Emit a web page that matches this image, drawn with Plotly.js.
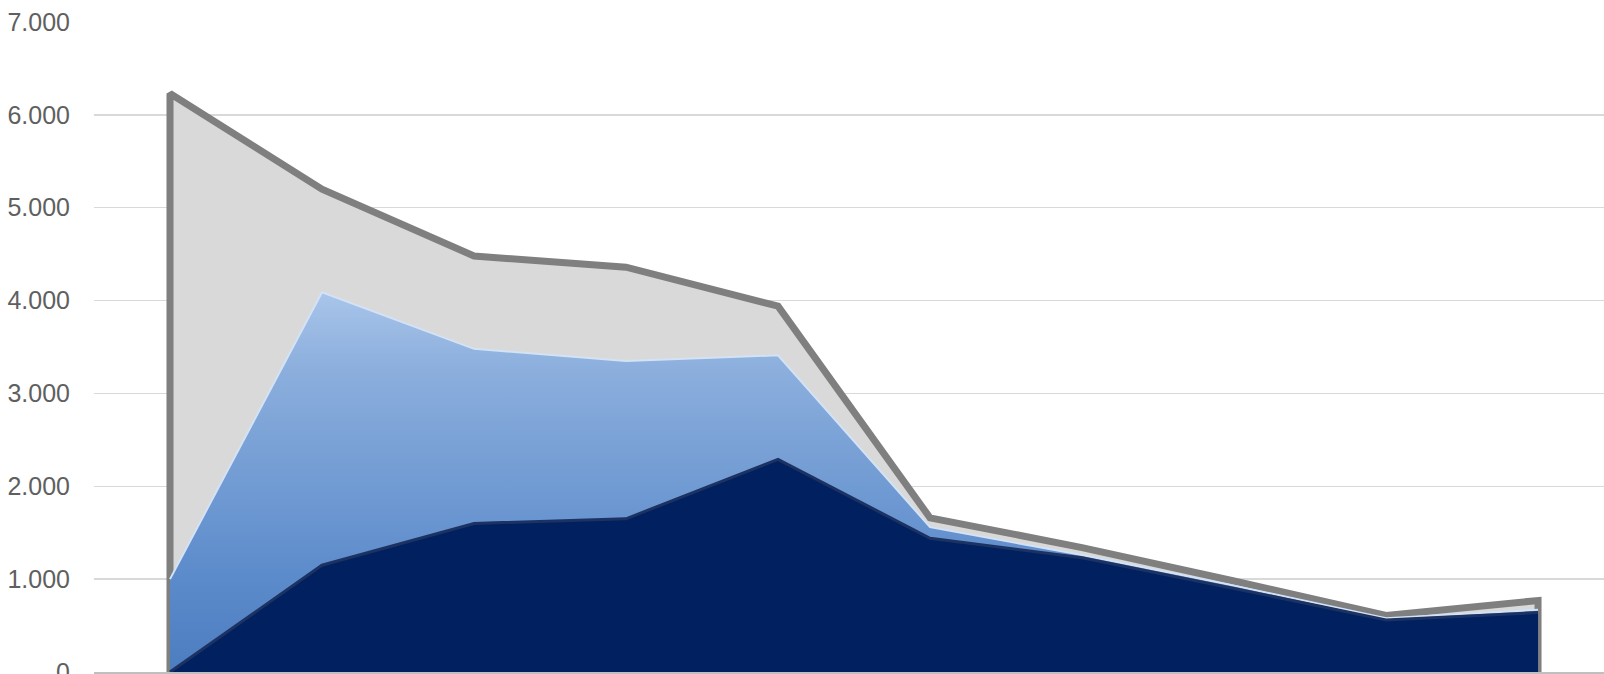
<!DOCTYPE html>
<html>
<head>
<meta charset="utf-8">
<script src="https://cdn.plot.ly/plotly-3.0.1.min.js"></script>
<style>html,body{margin:0;padding:0;background:#fff;}#chart{width:1604px;height:674px;}</style>
</head>
<body>
<div id="chart"></div>
<script>
// Categories (x labels are cropped out of the reference)
const categories = ['1','2','3','4','5','6','7','8','9','10'];
// Series values (overlapping areas)
const totalSeries = [6230, 5200, 4480, 4360, 3940, 1660, 1340, 980, 610, 770];
const midSeries   = [1000, 4090, 3480, 3350, 3410, 1560, 1260, 930, 580, 670];
const baseSeries  = [0, 1150, 1600, 1650, 2290, 1440, 1230, 900, 560, 640];
// Y tick values and labels
const yTickVals = [0, 1000, 2000, 3000, 4000, 5000, 6000, 7000];
const yTickText = ['0', '1.000', '2.000', '3.000', '4.000', '5.000', '6.000', '7.000'];

// closed outline for the grey area (vertical edges down to the axis)
const first = categories[0], last = categories[categories.length - 1];
const grayX = [first].concat(categories, [last]);
const grayY = [0].concat(totalSeries, [0]);

const traces = [
  {
    x: grayX, y: grayY, type: 'scatter', mode: 'lines',
    fill: 'toself', fillcolor: '#d9d9d9',
    line: {color: '#7f7f7f', width: 7},
    hoverinfo: 'skip'
  },
  {
    x: categories, y: midSeries, type: 'scatter', mode: 'lines',
    fill: 'tozeroy',
    fillgradient: {
      type: 'vertical', start: 0, stop: 4100,
      colorscale: [[0, '#4c7dbf'], [0.25, '#5c8bcb'], [0.8, '#8cafdd'], [1, '#a9c5ea']]
    },
    line: {color: '#d3e2f5', width: 2},
    hoverinfo: 'skip'
  },
  {
    x: categories, y: baseSeries, type: 'scatter', mode: 'lines',
    fill: 'tozeroy', fillcolor: '#002060',
    line: {color: '#1b3262', width: 3},
    hoverinfo: 'skip'
  }
];

const layout = {
  width: 1604, height: 674,
  margin: {l: 94, r: 0, t: 22, b: 2},
  paper_bgcolor: '#ffffff', plot_bgcolor: '#ffffff',
  showlegend: false,
  font: {family: 'Liberation Sans, Arial, sans-serif', color: '#595959', size: 25},
  xaxis: {
    type: 'category',
    range: [-0.5, 9.434],
    showticklabels: false, showgrid: false, zeroline: false,
    showline: true, linecolor: '#bfbfbf', linewidth: 1.5,
    fixedrange: true
  },
  yaxis: {
    range: [0, 7000],
    tickvals: yTickVals, ticktext: yTickText,
    showgrid: true, gridcolor: '#d9d9d9', gridwidth: 1.5,
    zeroline: false, showline: false,
    ticks: 'outside', ticklen: 18, tickcolor: 'rgba(0,0,0,0)',
    ticklabeloverflow: 'allow',
    tickfont: {family: 'Liberation Sans, Arial, sans-serif', color: '#5f5f5f', size: 25},
    fixedrange: true
  }
};

Plotly.newPlot('chart', traces, layout, {displayModeBar: false, staticPlot: true});
</script>
</body>
</html>
